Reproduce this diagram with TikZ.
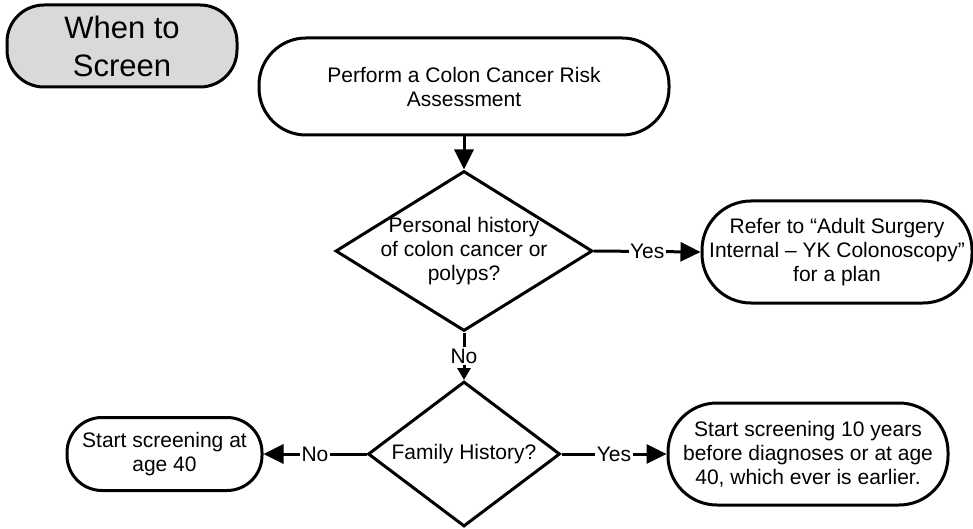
\documentclass[tikz,border=0pt]{standalone}
\usepackage{fontspec}
\setmainfont{Liberation Sans}
\usetikzlibrary{shapes.geometric,arrows.meta}
\definecolor{boxgray}{HTML}{D9D9D9}
\begin{document}
\begin{tikzpicture}[x=1pt,y=-1pt,
  txt/.style={font=\fontsize{21}{24}\selectfont},
  term/.style={draw, line width=3pt, align=center, inner sep=0pt, txt},
  dec/.style={draw, diamond, line width=3pt, inner sep=0pt},
  flow/.style={line width=3pt, -{Triangle[length=20pt,width=19pt]}},
  smallflow/.style={line width=3pt, -{Triangle[length=12pt,width=13pt]}},
  lab/.style={fill=white, inner sep=1.5pt, txt}
]
\useasboundingbox (0,0) rectangle (973,529);

\node[term, fill=boxgray, minimum width=230pt, minimum height=82pt, rounded corners=37pt,
      font=\fontsize{31}{38}\selectfont] (screen) at (122,46) {When to\\Screen};

\node[term, minimum width=410pt, minimum height=97pt, rounded corners=47pt] (perform) at (464,86.5)
  {Perform a Colon Cancer Risk\\Assessment};

\node[dec, minimum width=257pt, minimum height=160pt] (d1) at (464,251) {};
\node[txt, align=center, inner sep=0pt] (d1t) at (464,251) {Personal history\\of colon cancer or\\polyps?};

\node[term, minimum width=270pt, minimum height=102pt, rounded corners=49pt] (refer) at (837,252)
  {Refer to “Adult Surgery\\Internal – YK Colonoscopy”\\for a plan};

\node[dec, minimum width=192pt, minimum height=145pt] (d2) at (464,454) {};
\node[txt, inner sep=0pt] (d2t) at (464,454) {Family History?};

\node[term, minimum width=195pt, minimum height=73pt, rounded corners=35pt] (left) at (164.5,454)
  {Start screening at\\age 40};

\node[term, minimum width=280pt, minimum height=102pt, rounded corners=49pt] (right) at (808,454)
  {Start screening 10 years\\before diagnoses or at age\\40, which ever is earlier.};

\draw[flow] (perform.south) -- (d1.north);
\draw[flow] (d1.east) -- node[lab] (yes1) {Yes} (refer.west);
\draw[smallflow] (d1.south) -- node[lab] (no1) {No} (d2.north);
\draw[flow] (d2.west) -- node[lab] (no2) {No} (left.east);
\draw[flow] (d2.east) -- node[lab] (yes2) {Yes} (right.west);
\end{tikzpicture}
\end{document}
